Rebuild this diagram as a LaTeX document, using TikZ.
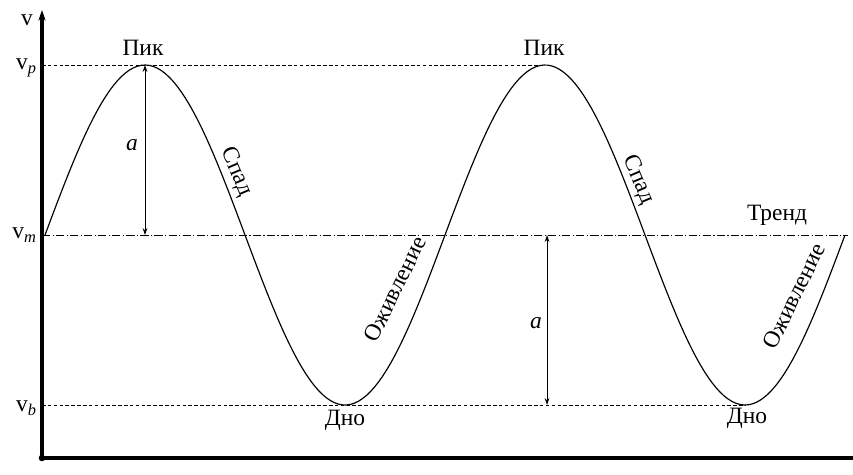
\documentclass[tikz,border=0pt]{standalone}
\usepackage{fontspec}
\setmainfont{Liberation Serif}
\usetikzlibrary{arrows.meta}

\begin{document}
\begin{tikzpicture}[x=0.03cm, y=-0.03cm,
    axis/.style={line width=2.6pt},
    level/.style={densely dashed, line width=0.8pt},
    trend/.style={dash pattern=on 7pt off 2pt on 1pt off 2pt, line width=0.8pt},
    wave/.style={line width=1pt},
    ampl/.style={{Stealth[length=6pt,width=4pt]}-{Stealth[length=6pt,width=4pt]}, line width=0.7pt},
    label/.style={font=\fontsize{20}{24}\selectfont, inner sep=1pt}
]
\useasboundingbox (0,0) rectangle (853,474);

% Axes
\coordinate (O) at (42,458);
\coordinate (vtop) at (42,10);
\coordinate (hend) at (853,458);
\draw[axis, -{Stealth[length=9pt,width=6pt]}] (O) -- (vtop);
\draw[axis] (O) -- (hend);
\fill (O) circle (2.8pt);

% Levels
\coordinate (vpL) at (42,65);
\coordinate (vmL) at (42,235);
\coordinate (vbL) at (42,405);
\coordinate (p1) at (145,65);
\coordinate (p2) at (545,65);
\coordinate (b1) at (345,405);
\coordinate (b2) at (745,405);
\coordinate (m1) at (145,235);
\coordinate (m2) at (547,235);
\coordinate (n2) at (547,405);
\coordinate (mR) at (848,235);
\draw[level] (vpL) -- (p2);
\draw[level] (vbL) -- (b2);
\draw[trend] (vmL) -- (mR);

% Wave
\draw[wave] plot[domain=45:845, samples=200] (\x, {235 - 170*sin((\x-45)*0.9)});

% Amplitude
\draw[ampl] (p1) -- (m1);
\draw[ampl] (m2) -- (n2);

% Axis labels
\node[label] (v) at (27,20) {v};
\node[label, left] (vp) at (38,68) {v\textsubscript{\textit{p}}};
\node[label, left] (vm) at (38,235) {v\textsubscript{\textit{m}}};
\node[label, left] (vb) at (38,408) {v\textsubscript{\textit{b}}};

% Phases
\node[label] (pik1) at (143,48) {Пик};
\node[label] (pik2) at (544,48) {Пик};
\node[label] (dno1) at (345,420) {Дно};
\node[label] (dno2) at (747,418) {Дно};
\node[label, rotate=-67] (spad1) at (236,172) {Спад};
\node[label, rotate=-67] (spad2) at (638,180) {Спад};
\node[label, rotate=64] (ozh1) at (395,289) {Оживление};
\node[label, rotate=64] (ozh2) at (794,296) {Оживление};
\node[label] (trnd) at (777,215) {Тренд};
\node[label] (a1) at (132,145) {\textit{a}};
\node[label] (a2) at (536,323) {\textit{a}};

\end{tikzpicture}
\end{document}
